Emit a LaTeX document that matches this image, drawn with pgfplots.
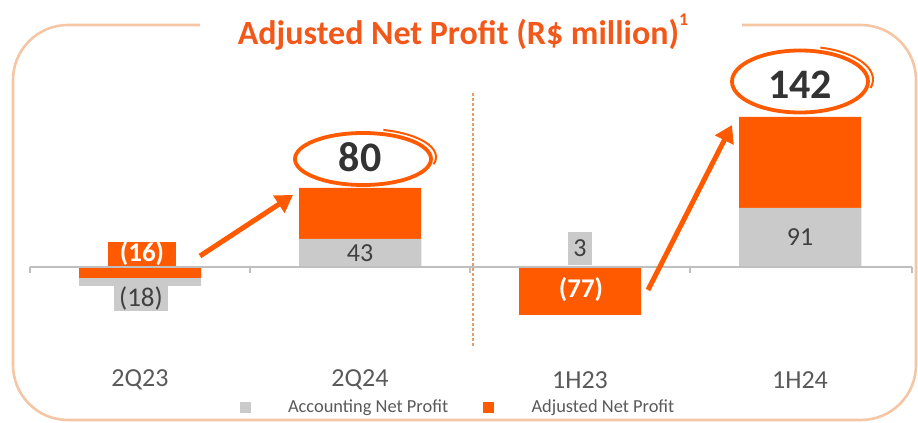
\documentclass[border=0pt]{standalone}
\usepackage{fontspec}
\setmainfont{Carlito}
\usepackage{pgfplots}
\pgfplotsset{compat=1.18}
\usetikzlibrary{arrows.meta}
\definecolor{orng}{HTML}{FF5A00}
\definecolor{ttl}{HTML}{F2581A}
\definecolor{grayb}{HTML}{CBCACA}
\definecolor{labgray}{HTML}{595959}
\definecolor{numgray}{HTML}{404040}
\definecolor{framec}{HTML}{F5C6A5}
\definecolor{dashc}{HTML}{E69C6C}
\definecolor{baseg}{HTML}{BFBFBF}

% one axis unit = one pixel of the 918x423 reference, y measured from the baseline
\begin{document}
\begin{tikzpicture}
\begin{axis}[
  at={(0pt,0pt)}, anchor=south west,
  scale only axis, width=459pt, height=211.5pt,
  xmin=0, xmax=918, ymin=-156, ymax=267,
  axis line style={draw=none}, major tick length=0pt,
  ytick=\empty,
  xtick={140,360,580,800}, xticklabels={2Q23,2Q24,1H23,1H24},
  xtick pos=left,
  xticklabel style={anchor=center, yshift=21.5pt, font=\fontsize{13}{15}\selectfont, text=labgray},
  ybar, bar width=122, bar shift=0pt,
  clip=false,
  legend style={draw=none, fill=none, at={(0.5,0.036)}, anchor=center,
    legend columns=2, font=\fontsize{9.2}{11}\selectfont, text=labgray,
    /tikz/every even column/.append style={column sep=15.5pt}},
]
% adjusted net profit, positive totals (drawn first, gray sits on top)
\addplot[fill=orng, draw=none, forget plot] coordinates {(360,79) (800,150)};
% accounting net profit
\addplot[fill=grayb, draw=none, forget plot] coordinates {(140,-19) (360,28) (580,1) (800,59)};
% adjusted net profit, negative
\addplot[fill=orng, draw=none, forget plot] coordinates {(140,-11) (580,-48)};

\addlegendimage{legend image code/.code={\fill[grayb] (0pt,-2.5pt) rectangle (5pt,2.5pt); \path[draw=none,fill=none] (0pt,0pt) rectangle (22pt,0.1pt);}}
\addlegendentry{Accounting Net Profit}
\addlegendimage{legend image code/.code={\fill[orng] (0pt,-2.5pt) rectangle (5pt,2.5pt); \path[draw=none,fill=none] (0pt,0pt) rectangle (22pt,0.1pt);}}
\addlegendentry{Adjusted Net Profit}

% baseline and ticks
\draw[baseg, line width=0.7pt] (30,0) -- (912,0);
\draw[baseg, line width=0.6pt] (30,0) -- (30,-6) (250,0) -- (250,-6) (470,0) -- (470,-6)
  (690,0) -- (690,-6) (912,0) -- (912,-6);

% frame with the title gap
\draw[framec, line width=1.3pt, rounded corners=27.5pt]
  (200,242) -- (13,242) -- (13,-153) -- (916,-153) -- (916,242) -- (742,242);
\node[text=ttl, font=\fontsize{17}{20}\selectfont\bfseries] at (463,235)
  {Adjusted Net Profit (R\$ million)\raisebox{0.55em}{\fontsize{9}{10}\selectfont 1}};

% divider
\draw[dashc, line width=0.9pt, dash pattern=on 1.5pt off 1pt] (473,174) -- (473,-80);

% value labels
\node[fill=orng, text=white, inner sep=0pt, minimum width=34pt, minimum height=12pt,
  font=\fontsize{13.5}{15}\selectfont\bfseries] at (142,13) {(16)};
\node[fill=grayb, text=numgray, inner sep=0pt, minimum width=27pt, minimum height=12.5pt,
  font=\fontsize{13.5}{15}\selectfont] at (141,-31.5) {(18)};
\node[text=numgray, font=\fontsize{13}{15}\selectfont] at (360,14) {43};
\node[fill=grayb, text=numgray, inner sep=0pt, minimum width=12pt, minimum height=16.5pt,
  font=\fontsize{13}{15}\selectfont] at (580,18.5) {3};
\node[text=white, font=\fontsize{13.5}{15}\selectfont\bfseries] at (581,-23) {(77)};
\node[text=numgray, font=\fontsize{13}{15}\selectfont] at (800,30) {91};

% circled totals, with a second partial pen stroke
\draw[orng, line width=1.9pt] (363,108) ellipse [x radius=34pt, y radius=13pt];
\draw[orng, line width=1pt] ([shift={(-15:35.5pt and 14pt)}]365,110) arc [start angle=-15, end angle=75, x radius=35.5pt, y radius=14pt];
\node[text=black!80, font=\fontsize{21}{24}\selectfont\bfseries] at (360,110) {80};
\draw[orng, line width=1.9pt] (800,185.5) ellipse [x radius=34pt, y radius=15.5pt];
\draw[orng, line width=1pt] ([shift={(-15:35.5pt and 16.5pt)}]802,187.5) arc [start angle=-15, end angle=75, x radius=35.5pt, y radius=16.5pt];
\node[text=black!80, font=\fontsize{21}{24}\selectfont\bfseries] at (800,182) {142};

% arrows
\draw[orng, line width=2.5pt, -{Triangle[length=8.5pt, width=10pt]}] (200,11) -- (293,72);
\draw[orng, line width=2.5pt, -{Triangle[length=8.5pt, width=10pt]}] (648,-23) -- (732,142);
\end{axis}
\pgfresetboundingbox
\useasboundingbox (0pt,0pt) rectangle (459pt,211.5pt);
\end{tikzpicture}
\end{document}
